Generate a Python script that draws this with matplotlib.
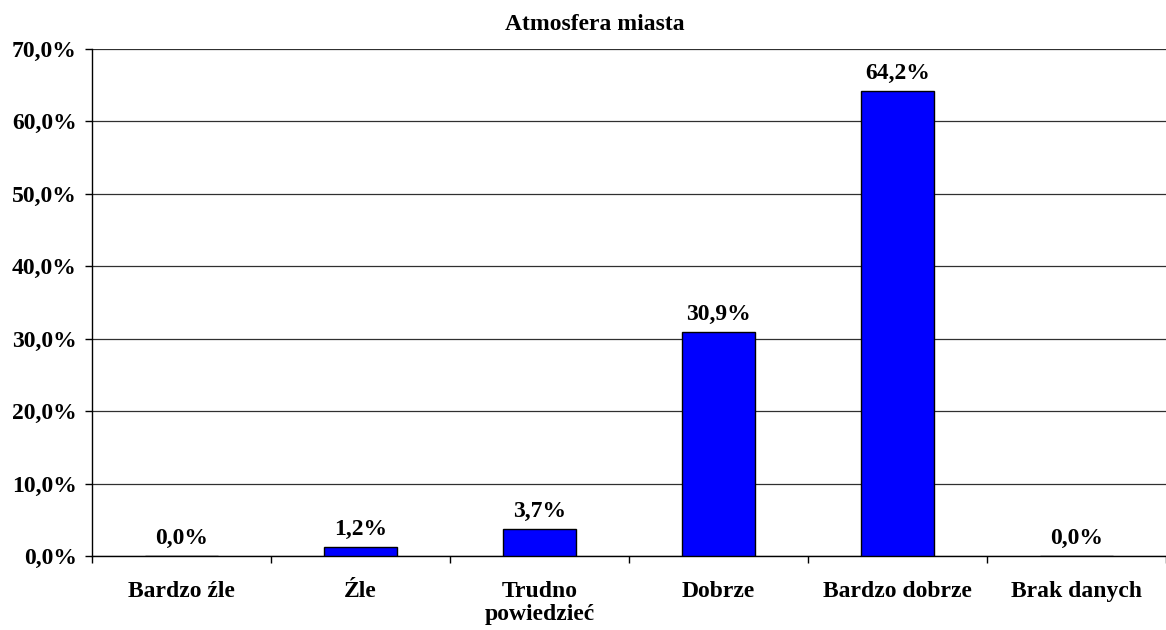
import numpy as np
import matplotlib.pyplot as plt
from matplotlib.ticker import FixedLocator, NullFormatter

TITLE = "Atmosfera miasta"
categories = ["Bardzo źle", "Źle", "Trudno\npowiedzieć", "Dobrze", "Bardzo dobrze", "Brak danych"]
values = [0.0, 1.2, 3.7, 30.9, 64.2, 0.0]
y_ticks = [0, 10, 20, 30, 40, 50, 60, 70]

plt.rcParams["font.family"] = ["Liberation Serif", "DejaVu Serif"]
plt.rcParams["font.weight"] = "bold"

fig = plt.figure(figsize=(11.66, 6.30), dpi=100)
ax = fig.add_axes([92 / 1166, 1 - 556 / 630, 1 - 92 / 1166, (556 - 49) / 630])

x = np.arange(len(categories))
ax.bar(x, values, width=0.41, color="#0000FF", edgecolor="black", linewidth=1.0, zorder=3)

for xi, v in zip(x, values):
    ax.text(xi, v + 1.0, f"{v:.1f}%".replace(".", ","), ha="center", va="bottom",
            fontsize=17, fontweight="bold")

ax.set_xlim(-0.5, len(categories) - 0.5)
ax.set_ylim(0, 70)
ax.set_yticks(y_ticks)
ax.set_yticklabels([f"{t:.1f}%".replace(".", ",") for t in y_ticks], fontsize=17, fontweight="bold")
ax.yaxis.grid(True, color="#303030", linewidth=0.9, zorder=0)

ax.set_xticks(x)
ax.set_xticklabels(categories, fontsize=17, fontweight="bold", va="top", linespacing=1.15)
ax.tick_params(axis="x", which="major", length=0, pad=18)
ax.xaxis.set_minor_locator(FixedLocator(np.arange(-0.5, len(categories), 1.0)))
ax.xaxis.set_minor_formatter(NullFormatter())
ax.tick_params(axis="x", which="minor", length=5, width=1, direction="out")
ax.tick_params(axis="y", length=5, width=1, direction="out", pad=6)

for side in ["top", "right"]:
    ax.spines[side].set_visible(False)
ax.spines["left"].set_linewidth(1.0)
ax.spines["bottom"].set_linewidth(1.0)

fig.text(595 / 1166, 1 - 25 / 630, TITLE, ha="center", va="center", fontsize=17, fontweight="bold")

fig.savefig("out.png", dpi=100)
